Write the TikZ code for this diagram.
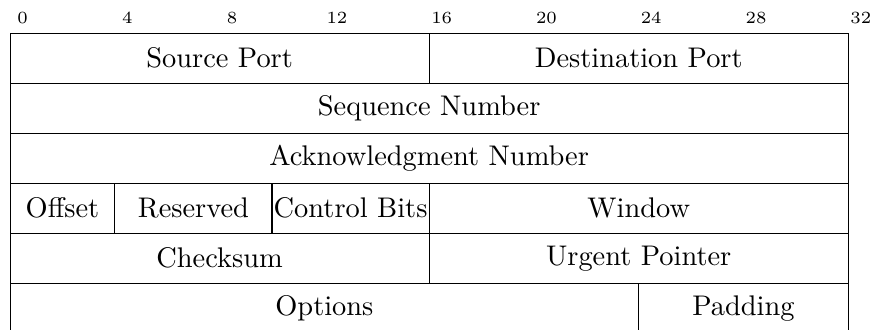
\documentclass[tikz,border=0pt]{standalone}
\begin{document}
\begin{tikzpicture}[x=9.22pt, y=-17.6pt,
  field/.style={draw, line width=0.4pt, inner sep=0pt, anchor=north west, minimum height=17.6pt},
  bitlbl/.style={inner sep=0pt, font=\fontsize{6}{7}\selectfont}]
\useasboundingbox (-0.363,-0.654) rectangle (32.89,5.926);
\foreach \b in {0,4,...,32} {
  \node[bitlbl] (b\b) at (\b+0.5,-0.3) {\b};
}
\node[field, minimum width=16*9.22pt] (sport) at (0,0) {Source Port};
\node[field, minimum width=16*9.22pt] (dport) at (16,0) {Destination Port};
\node[field, minimum width=32*9.22pt] (seq) at (0,1) {Sequence Number};
\node[field, minimum width=32*9.22pt] (ack) at (0,2) {Acknowledgment Number};
\node[field, minimum width=4*9.22pt] (off) at (0,3) {Offset};
\node[field, minimum width=6*9.22pt] (res) at (4,3) {Reserved};
\node[field, minimum width=6*9.22pt] (ctl) at (10,3) {Control Bits};
\node[field, minimum width=16*9.22pt] (win) at (16,3) {Window};
\node[field, minimum width=16*9.22pt] (chk) at (0,4) {Checksum};
\node[field, minimum width=16*9.22pt] (urg) at (16,4) {Urgent Pointer};
\node[field, minimum width=24*9.22pt] (opt) at (0,5) {Options};
\node[field, minimum width=8*9.22pt] (pad) at (24,5) {Padding};
\end{tikzpicture}
\end{document}
